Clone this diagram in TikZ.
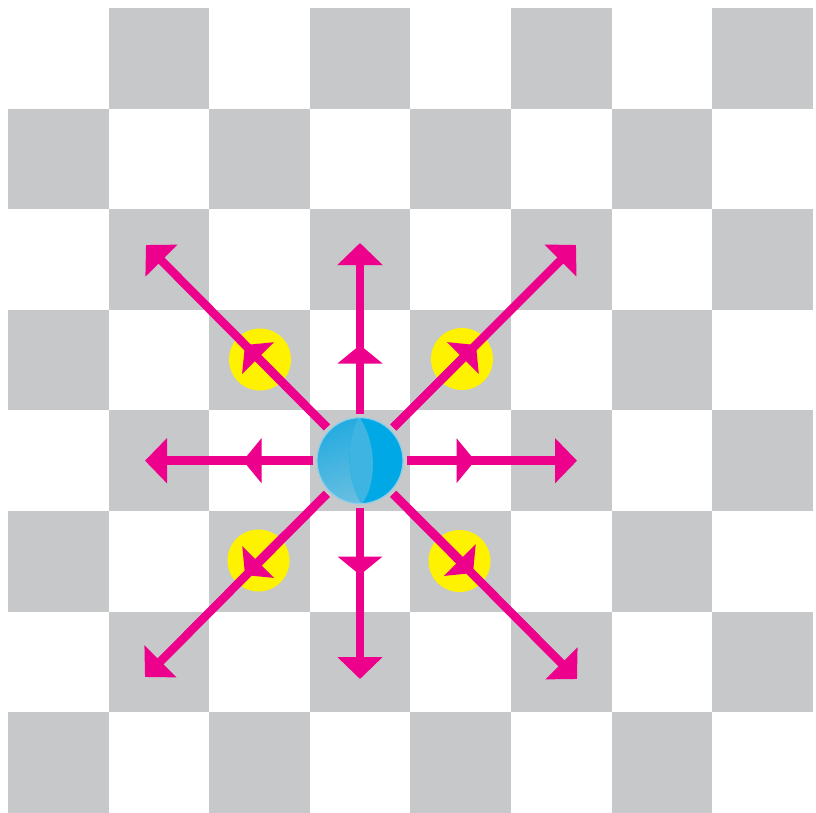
\documentclass[tikz,border=0pt]{standalone}
\usetikzlibrary{arrows.meta}
\definecolor{grayc}{HTML}{C7C8CA}
\definecolor{mag}{HTML}{EC008C}
\definecolor{yel}{HTML}{FFF200}
\definecolor{ballc}{HTML}{00A9E6}
\definecolor{ballL1}{HTML}{14A6E0}
\definecolor{ballL2}{HTML}{6CC0E0}
\definecolor{lensc}{HTML}{3DB4E2}
\definecolor{ringc}{HTML}{8ACFEA}
\begin{document}
\begin{tikzpicture}[x=1pt,y=-1pt,
  arr/.style={draw=mag, line width=8.5pt, -{Triangle[width=44pt,length=22pt]}},
  arrmid/.style={draw=mag, line width=8.5pt, -{Triangle[width=44pt,length=18.5pt]}},
  spot/.style={fill=yel},
  square/.style={fill=grayc}]
\useasboundingbox (0,0) rectangle (816,813);
\fill[white] (0,0) rectangle (816,813);
\foreach \r in {0,...,7}{
  \foreach \c in {0,...,7}{
    \pgfmathtruncatemacro\s{\r+\c}
    \ifodd\s
      \fill[square] (8+\c*100.6, 8+\r*100.6) rectangle ++(100.6,100.6);
    \fi
  }
}
% yellow spots
\fill[spot] (260,359.5) circle (31pt);
\fill[spot] (462,359) circle (31pt);
\fill[spot] (258.5,560.5) circle (31pt);
\fill[spot] (459.5,561) circle (31pt);
% ball
\node[circle, minimum size=86pt, inner sep=0pt, outer sep=4pt, fill=ballc] (ball) at (360,460.7) {};
\begin{scope}
  \clip (360,460.7) circle (43pt);
  \shade[top color=ballL1, bottom color=ballL2, shading angle=20]
    (359,417) .. controls (346,440) and (346,482) .. (362,504) -- (362,506) -- (300,520) -- (300,400) -- (359,400) -- cycle;
  \fill[lensc] (359,417) .. controls (346,440) and (346,482) .. (362,504)
                 .. controls (378,482) and (376,440) .. (359,417) -- cycle;
\end{scope}
\draw[ringc, line width=1.2pt] (360,460.7) circle (43pt);
% end points
\coordinate (eN) at (360,243);
\coordinate (eS) at (360,679);
\coordinate (eW) at (145,460.7);
\coordinate (eE) at (577,460.7);
\coordinate (eNW) at (146,245);
\coordinate (eNE) at (576,245);
\coordinate (eSW) at (145,677);
\coordinate (eSE) at (577,679);
\coordinate (mN) at (360,345);
\coordinate (mS) at (360,575);
\coordinate (mW) at (243,460.7);
\coordinate (mE) at (475,460.7);
\coordinate (mNW) at (245,345);
\coordinate (mNE) at (476,345);
\coordinate (mSW) at (245,575);
\coordinate (mSE) at (473,573);
\foreach \d in {N,S,W,E,NW,NE,SW,SE}{
  \draw[arr] (ball) -- (e\d);
  \draw[arrmid] (ball) -- (m\d);
}
\end{tikzpicture}
\end{document}
